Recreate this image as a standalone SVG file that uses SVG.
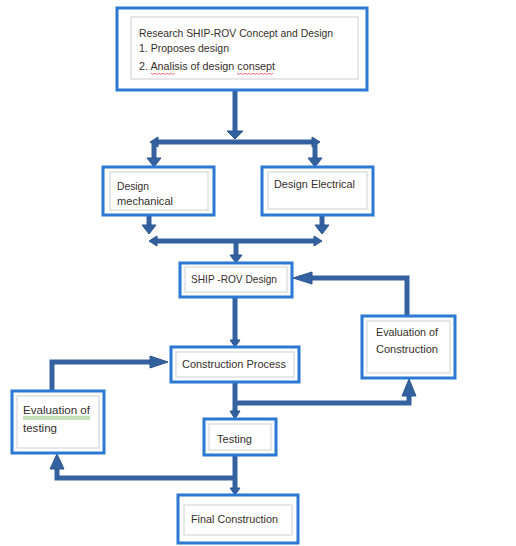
<svg xmlns="http://www.w3.org/2000/svg" width="516" height="546" viewBox="0 0 516 546">
<defs>
<style>
.box{fill:#ffffff;stroke:#2b79d2;stroke-width:3}
.inner{fill:none;stroke:#cfcfcf;stroke-width:1}
.t{font-family:"Liberation Sans","Noto Sans",sans-serif;font-size:11px;fill:#352f2a}
.c{fill:none;stroke:#3462a0;stroke-width:5}
.h{fill:#3462a0;stroke:#2a5590;stroke-width:1}
.sq{fill:none;stroke:#e05050;stroke-width:0.8}
.gq{fill:none;stroke:#6ab04c;stroke-width:0.8}
</style>
</defs>
<rect width="516" height="546" fill="#ffffff"/>
<g id="connectors">
<line class="c" x1="235" y1="90" x2="235" y2="132"/>
<polygon class="h" points="227,131 243,131 235,139"/>
<line class="c" x1="156" y1="142" x2="314" y2="142"/>
<polygon class="h" points="158,137 158,147 150,142"/>
<polygon class="h" points="312,137 312,147 320,142"/>
<line class="c" x1="154" y1="142" x2="154" y2="159"/>
<polygon class="h" points="147,158 161,158 154,167"/>
<line class="c" x1="315" y1="142" x2="315" y2="159"/>
<polygon class="h" points="308,158 322,158 315,167"/>
<line class="c" x1="149" y1="216" x2="149" y2="226"/>
<polygon class="h" points="142,225 156,225 149,234"/>
<line class="c" x1="322" y1="216" x2="322" y2="226"/>
<polygon class="h" points="315,225 329,225 322,234"/>
<line class="c" x1="155" y1="241" x2="316" y2="241"/>
<polygon class="h" points="157,236 157,246 149,241"/>
<polygon class="h" points="314,236 314,246 322,241"/>
<line class="c" x1="236" y1="241" x2="236" y2="256"/>
<polygon class="h" points="230,255 242,255 236,263"/>
<line class="c" x1="235" y1="297" x2="235" y2="341"/>
<polygon class="h" points="230,340 240,340 235,347"/>
<polyline class="c" points="407,316 407,278 308,278"/>
<polygon class="h" points="312,272 312,284 293,278"/>
<polyline class="c" points="235,382 235,412"/>
<polygon class="h" points="230,411 240,411 235,419"/>
<polyline class="c" points="235,403 409,403 409,395"/>
<polygon class="h" points="402,396 416,396 409,379"/>
<polyline class="c" points="52,391 52,362 152,362"/>
<polygon class="h" points="150,356 150,368 168,362"/>
<polyline class="c" points="235,455 235,489"/>
<polygon class="h" points="230,488 240,488 235,495"/>
<polyline class="c" points="235,478 57,478 57,468"/>
<polygon class="h" points="50,469 64,469 57,454"/>
</g>
<g id="research">
<rect class="box" x="117" y="8" width="250" height="82"/>
<rect class="inner" x="131" y="17" width="227" height="62"/>
<text class="t" x="139" y="37" textLength="194" lengthAdjust="spacingAndGlyphs">Research SHIP-ROV Concept and Design</text>
<text class="t" x="139" y="52" textLength="90" lengthAdjust="spacingAndGlyphs">1. Proposes design</text>
<text class="t" x="139" y="70" textLength="136" lengthAdjust="spacingAndGlyphs">2. Analisis of design consept</text>
<path class="sq" d="M151,73 l2,1.5 2,-1.5 2,1.5 2,-1.5 2,1.5 2,-1.5 2,1.5 2,-1.5 2,1.5 2,-1.5 2,1.5 2,-1.5"/>
<path class="sq" d="M237,73 l2,1.5 2,-1.5 2,1.5 2,-1.5 2,1.5 2,-1.5 2,1.5 2,-1.5 2,1.5 2,-1.5 2,1.5 2,-1.5 2,1.5 2,-1.5 2,1.5 2,-1.5 2,1.5 2,-1.5"/>
</g>
<g id="design-mechanical">
<rect class="box" x="103" y="167" width="111" height="48"/>
<rect class="inner" x="110" y="172" width="98" height="38"/>
<text class="t" x="117" y="190" textLength="32" lengthAdjust="spacingAndGlyphs">Design</text>
<text class="t" x="117" y="205" textLength="56" lengthAdjust="spacingAndGlyphs">mechanical</text>
</g>
<g id="design-electrical">
<rect class="box" x="262" y="167" width="111" height="48"/>
<rect class="inner" x="268" y="172" width="99" height="37"/>
<text class="t" x="274" y="188" textLength="81" lengthAdjust="spacingAndGlyphs">Design Electrical</text>
</g>
<g id="ship-rov-design">
<rect class="box" x="180" y="263" width="112" height="34"/>
<rect class="inner" x="185" y="267" width="102" height="25"/>
<text class="t" x="191" y="283" textLength="86" lengthAdjust="spacingAndGlyphs">SHIP -ROV Design</text>
</g>
<g id="construction-process">
<rect class="box" x="171" y="347" width="128" height="35"/>
<rect class="inner" x="176" y="352" width="118" height="25"/>
<text class="t" x="182" y="368" textLength="104" lengthAdjust="spacingAndGlyphs">Construction Process</text>
</g>
<g id="evaluation-construction">
<rect class="box" x="362" y="316" width="93" height="62"/>
<rect class="inner" x="367" y="321" width="83" height="52"/>
<text class="t" x="376" y="336" textLength="62" lengthAdjust="spacingAndGlyphs">Evaluation of</text>
<text class="t" x="376" y="353" textLength="62" lengthAdjust="spacingAndGlyphs">Construction</text>
</g>
<g id="evaluation-testing">
<rect class="box" x="12" y="391" width="92" height="62"/>
<rect class="inner" x="17" y="396" width="82" height="52"/>
<text class="t" x="23" y="414" textLength="67" lengthAdjust="spacingAndGlyphs">Evaluation  of</text>
<line class="gq" x1="23" y1="417" x2="90" y2="417"/>
<line class="gq" x1="23" y1="419" x2="90" y2="419"/>
<text class="t" x="23" y="432" textLength="34" lengthAdjust="spacingAndGlyphs">testing</text>
</g>
<g id="testing">
<rect class="box" x="204" y="419" width="72" height="36"/>
<rect class="inner" x="209" y="424" width="62" height="26"/>
<text class="t" x="217" y="443" textLength="35" lengthAdjust="spacingAndGlyphs">Testing</text>
</g>
<g id="final-construction">
<rect class="box" x="178" y="495" width="120" height="48"/>
<rect class="inner" x="184" y="505" width="108" height="30"/>
<text class="t" x="191" y="523" textLength="87" lengthAdjust="spacingAndGlyphs">Final Construction</text>
</g>
</svg>
